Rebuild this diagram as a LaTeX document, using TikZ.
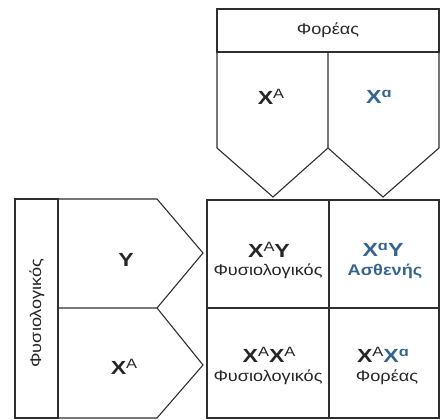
\documentclass[tikz,border=0pt]{standalone}
\usepackage{fontspec}
\usepackage{graphicx}
\setmainfont{Liberation Sans}
\definecolor{lineg}{HTML}{2E2E2E}
\definecolor{blu}{HTML}{35658F}
\definecolor{txt}{HTML}{262626}
\newcommand\sps[1]{\raisebox{6.5pt}{\fontsize{13.5}{13.5}\selectfont #1}}
\newcommand\genofont{\fontsize{19}{19}\selectfont}
\newcommand\lblfont{\fontsize{15.5}{15.5}\selectfont}
\newcommand\gw[1]{\scalebox{1.22}[1]{#1}}
\newcommand\lw[1]{\scalebox{1.17}[1]{#1}}
\begin{document}
\begin{tikzpicture}[x=1pt,y=-1pt,
  ln/.style={draw=lineg,line width=1.1pt,line join=miter},
  geno/.style={inner sep=0pt,font=\genofont,text=txt},
  lbl/.style={inner sep=0pt,font=\lblfont,text=txt}]
\useasboundingbox (0,0) rectangle (440,420);
% top box
\draw[ln] (217,9) rectangle (439,52);
\draw[ln] (217,52) -- (217,148) -- (273,197) -- (328,148) -- (328,52);
\draw[ln] (328,148) -- (383,197) -- (439,148) -- (439,52);
% left box
\draw[ln] (15,199) rectangle (58,418);
\draw[ln] (58,199) -- (157,199) -- (203,253) -- (157,308) -- (58,308);
\draw[ln] (157,308) -- (203,365) -- (157,418) -- (58,418);
% grid
\draw[ln] (207,200) rectangle (439,418);
\draw[ln] (329,200) -- (329,418);
\draw[ln] (207,308) -- (439,308);
% texts
\node[lbl] (hdr) at (328,30) {\lw{Φορέας}};
\node[geno] (tA) at (271,97) {\gw{\textbf{X}\sps{A}}};
\node[geno,text=blu] (ta) at (379,97) {\gw{\textbf{X}\sps{\textbf{ɑ}}}};
\node[lbl,rotate=90] (side) at (37,313) {\lw{Φυσιολογικός}};
\node[geno] (lY) at (126,260) {\gw{\textbf{Y}}};
\node[geno] (lA) at (124,367) {\gw{\textbf{X}\sps{A}}};
\node[geno] (g1) at (269,250) {\gw{\textbf{X}\sps{A}\textbf{Y}}};
\node[lbl] (g1t) at (268,271) {\lw{Φυσιολογικός}};
\node[geno,text=blu] (g2) at (383,250) {\gw{\textbf{X}\sps{\textbf{ɑ}}\textbf{Y}}};
\node[lbl,text=blu] (g2t) at (385,271) {\lw{\textbf{Ασθενής}}};
\node[geno] (g3) at (269,355) {\gw{\textbf{X}\sps{A}\textbf{X}\sps{A}}};
\node[lbl] (g3t) at (268,377) {\lw{Φυσιολογικός}};
\node[geno] (g4) at (383,355) {\gw{\textbf{X}\sps{A}{\color{blu}\textbf{X}\sps{\textbf{ɑ}}}}};
\node[lbl] (g4t) at (387,377) {\lw{Φορέας}};
\end{tikzpicture}
\end{document}
